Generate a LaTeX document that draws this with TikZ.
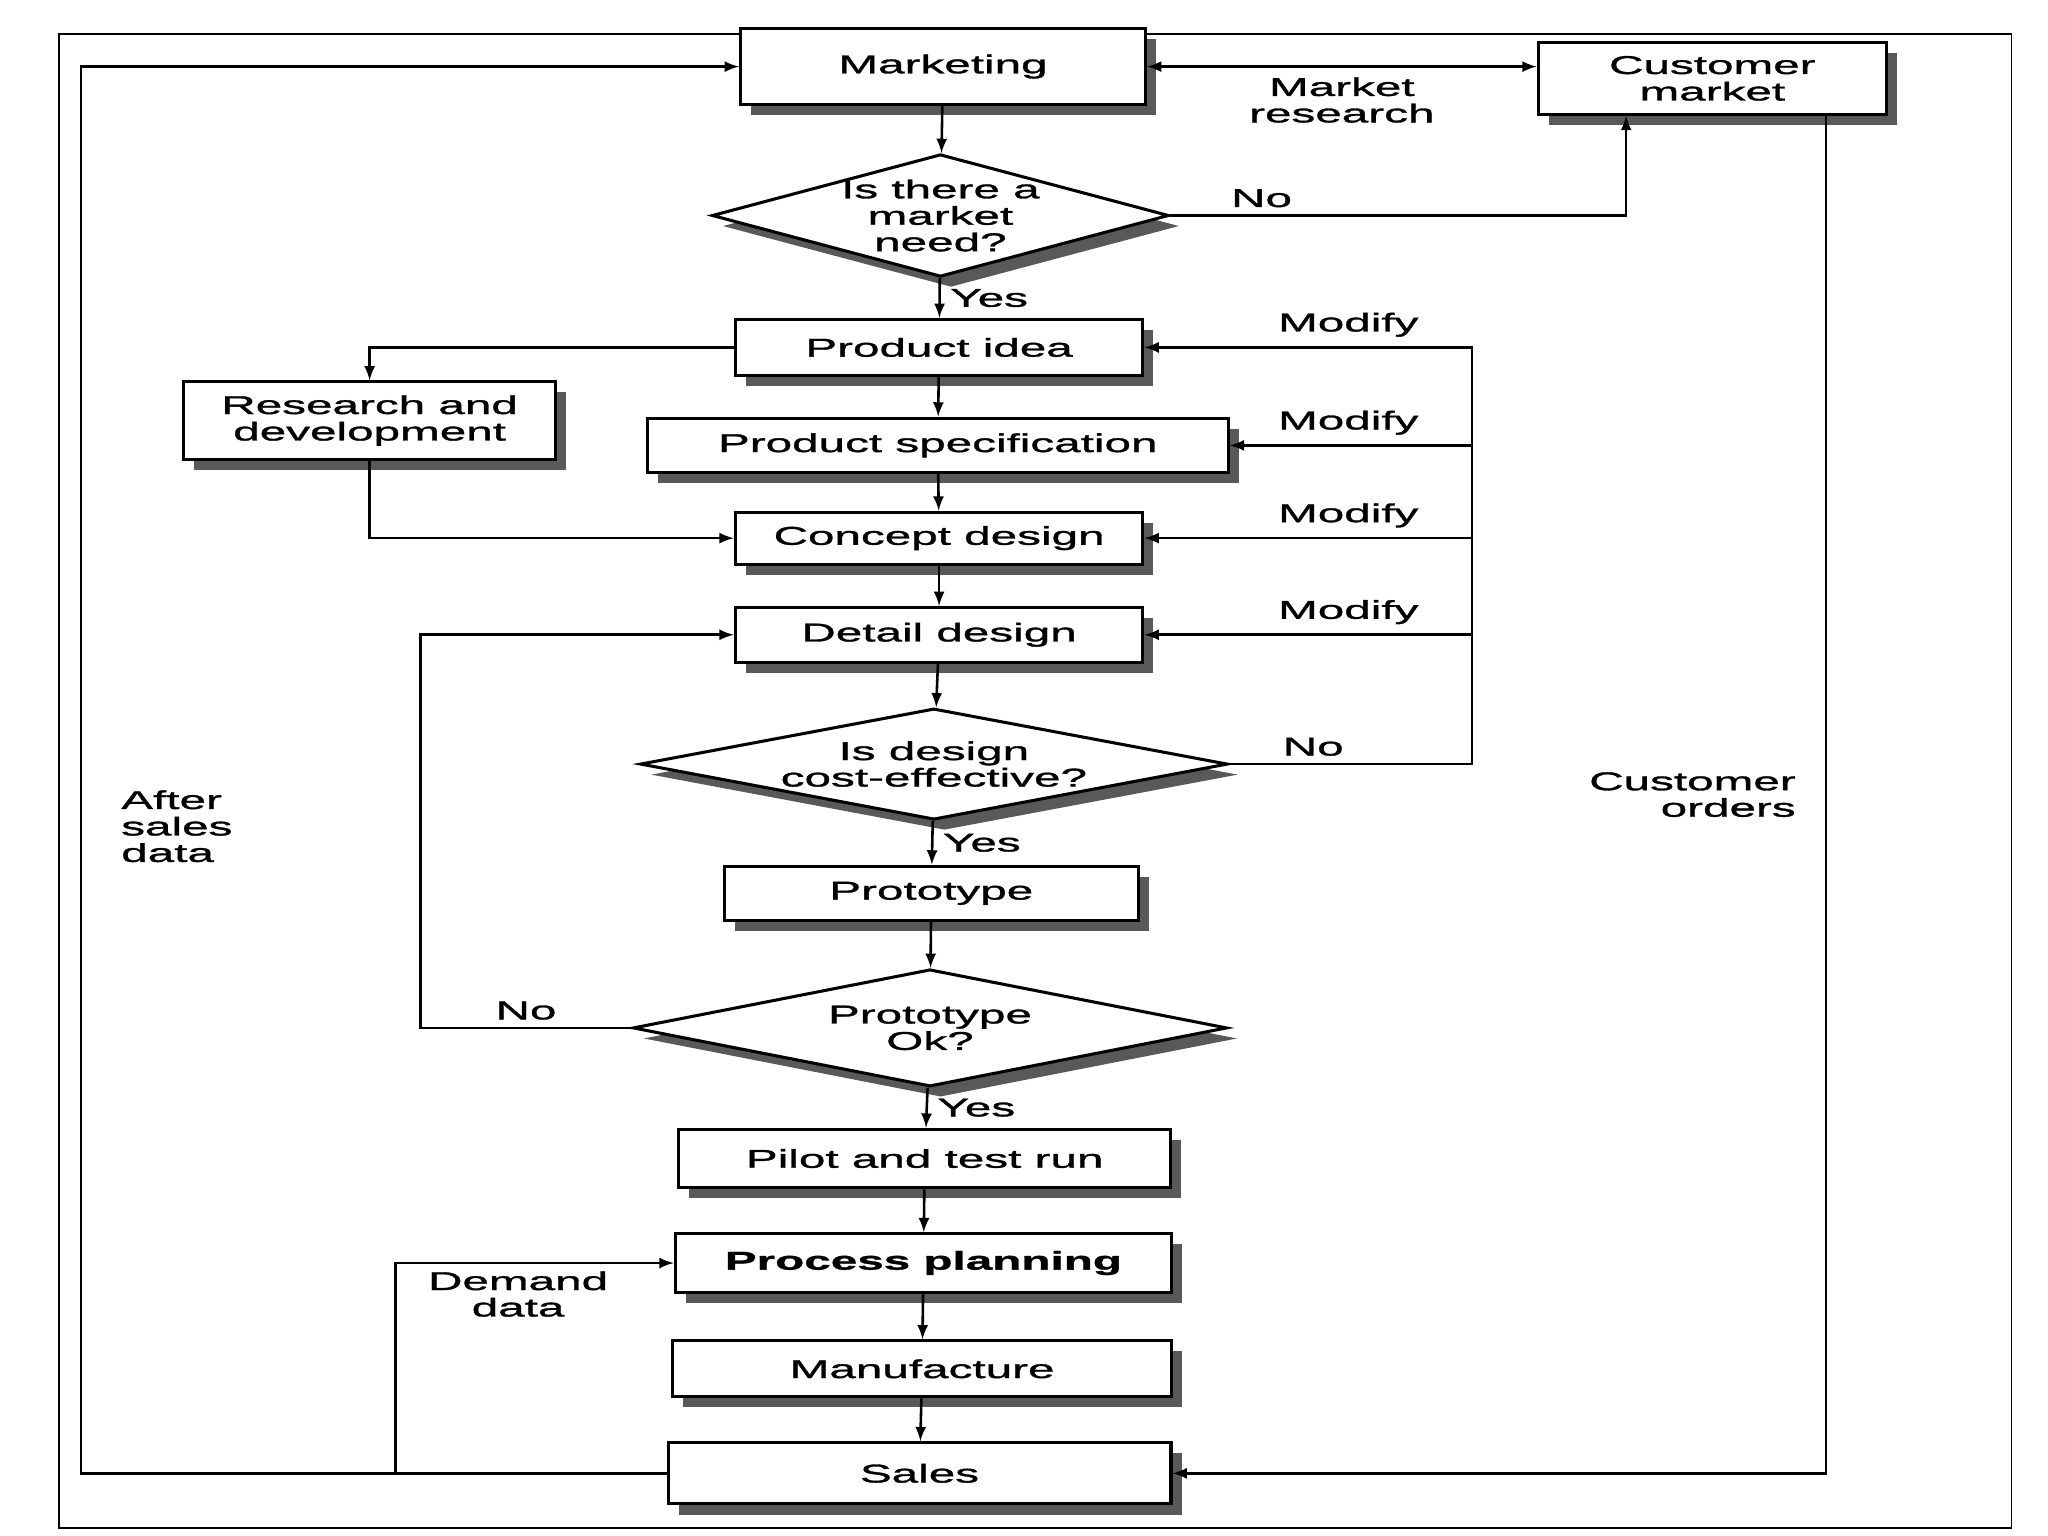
\documentclass[tikz,border=0pt]{standalone}
\usepackage{fontspec}
\setmainfont{Liberation Sans}[FakeStretch=1.85, RawFeature={embolden=1.2}]
\usetikzlibrary{shapes.geometric,shadows,positioning,arrows}

\begin{document}
\begin{tikzpicture}[
      x=0.0196cm,
      y=-0.0196cm,
      box/.style={
          draw,
          line width=1.3pt,
          fill=white,
          inner sep=2pt,
          align=center,
          drop shadow={opacity=1, fill=black!65, shadow xshift=4.5pt, shadow yshift=-4.5pt}
        },
      choice/.style={
          box,
          diamond,
          inner sep=0pt
        },
      lbl/.style={
          inner sep=1pt,
          align=center
        },
      >=latex,
      line width=1.1pt,
      font=\fontsize{11}{11.3}\selectfont
    ]
    \useasboundingbox (0,0) rectangle (1568,1176);
    % page frame
    \draw[line width=0.7pt] (45,26) rectangle (1540,1170);

    \node[box, minimum width=6.08cm, minimum height=1.14cm] (mkt) at (722,51) {Marketing};
    \node[box, minimum width=5.23cm, minimum height=1.08cm] (cust) at (1311,60) {Customer\\market};
    \node[choice, minimum width=6.86cm, minimum height=1.84cm,
      label={[lbl]center:Is there a\\market\\need?}] (d1) at (720,165) {};
    \node[box, minimum width=6.12cm, minimum height=0.84cm] (pidea) at (719,266) {Product idea};
    \node[box, minimum width=5.59cm, minimum height=1.16cm] (rd) at (283,322) {Research and\\development};
    \node[box, minimum width=8.72cm, minimum height=0.82cm] (pspec) at (718,341) {Product specification};
    \node[box, minimum width=6.12cm, minimum height=0.78cm] (concept) at (719,412) {Concept design};
    \node[box, minimum width=6.12cm, minimum height=0.82cm] (detail) at (719,486) {Detail design};
    \node[choice, minimum width=8.82cm, minimum height=1.67cm,
      label={[lbl]center:Is design\\cost-effective?}] (d2) at (715,585) {};
    \node[box, minimum width=6.21cm, minimum height=0.82cm] (proto) at (713,684) {Prototype};
    \node[choice, minimum width=8.92cm, minimum height=1.76cm,
      label={[lbl]center:Prototype\\Ok?}] (d3) at (712,787) {};
    \node[box, minimum width=7.39cm, minimum height=0.88cm] (pilot) at (708,887) {Pilot and test run};
    \node[box, minimum width=7.45cm, minimum height=0.88cm] (proc) at (707,967) {\textbf{Process planning}};
    \node[box, minimum width=7.49cm, minimum height=0.84cm] (manuf) at (706,1048) {Manufacture};
    \node[box, minimum width=7.55cm, minimum height=0.92cm] (sales) at (704,1128) {Sales};

    \coordinate (nox) at (1245,0);
    \coordinate (ordx) at (1398,0);
    \coordinate (bus) at (1127,0);
    \coordinate (nol) at (322,0);
    \coordinate (dem) at (303,0);
    \coordinate (asx) at (62,0);

    \foreach \from/\to in {mkt/d1,pidea/pspec,pspec/concept,concept/detail,detail/d2,proto/d3,pilot/proc,proc/manuf,manuf/sales}
    \draw[->] (\from) -- (\to);
    \foreach \from/\to in {d1/pidea,d2/proto,d3/pilot}
    \draw[->] (\from) -- node[right=3pt, lbl] {Yes} (\to);

    \draw[<->] (mkt.east) -- node[below=3pt, lbl] {Market\\research} (mkt.east -| cust.west);
    \draw[->] (d1.east) -| node[pos=0.1, above=2pt, lbl] {No} (cust.south -| nox);
    \draw[->] (pidea.west) -| (rd.north);
    \draw[->] (rd.south) |- (concept.west);

    % modify loop
    \draw[->] (d2.east) node[above right=2pt and 0.75cm, lbl] {No} -| (pidea.east -| bus)
      node[above left=3pt and 0.75cm, lbl] {Modify} -- (pidea.east);
    \foreach \n in {pspec,concept,detail}
    \draw[->] (\n.east -| bus) node[above left=3pt and 0.75cm, lbl] {Modify} -- (\n.east);

    \draw[->] (d3.west) -- node[above=2pt, lbl] {No} (d3.west -| nol) |- (detail.west);

    % feedback from sales
    \draw[->] (sales.west) -- (sales.west -| asx) |- node[pos=0.23, right=0.55cm, lbl, align=left] {After\\sales\\data} (mkt.west);
    \draw[->] (sales.west -| dem) |- node[pos=0.72, below=2pt, lbl] {Demand\\data} (proc.west);
    \draw[->] (cust.south -| ordx) |- node[pos=0.25, left=0.4cm, lbl, align=right] {Customer\\orders} (sales.east);
  \end{tikzpicture}
\end{document}
